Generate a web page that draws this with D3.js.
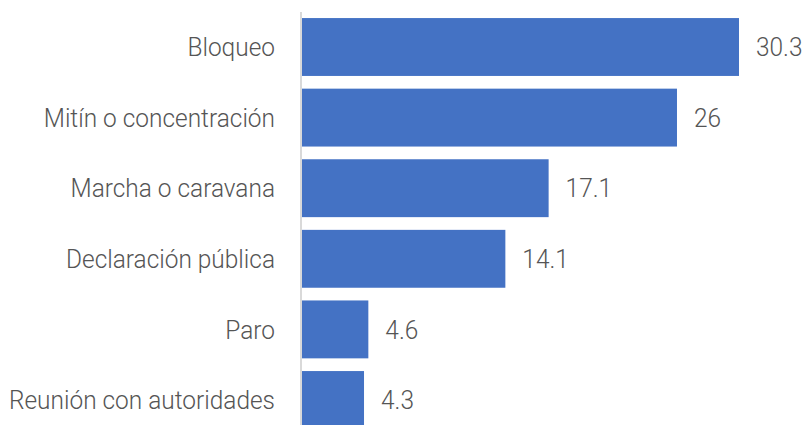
<!DOCTYPE html>
<html>
<head>
<meta charset="utf-8">
<script src="https://cdn.jsdelivr.net/npm/d3@7"></script>
<style>
  body { margin: 0; background: #fff; }
  svg text { font-family: "Roboto", "Open Sans", sans-serif; font-weight: 300; fill: #555; }
</style>
</head>
<body>
<div id="chart"></div>
<script>
// Chart data
const categories = ['Bloqueo', 'Mitín o concentración', 'Marcha o caravana', 'Declaración pública', 'Paro', 'Reunión con autoridades'];
const values = [30.3, 26, 17.1, 14.1, 4.6, 4.3];

const width = 804, height = 425;
const squeeze = 0.94; // narrow the glyphs a little, the original font is tighter

const svg = d3.select('#chart')
    .append('svg')
    .attr('width', width)
    .attr('height', height);

const x = d3.scaleLinear()
    .domain([0, 30.3])
    .range([302, 739]);

const y = d3.scaleBand()
    .domain(categories)
    .range([11.7, 435.3])
    .paddingInner(0.18)
    .paddingOuter(0.09);

const rows = categories.map((c, i) => ({ cat: c, val: values[i] }));

// Bars
svg.append('g')
    .selectAll('rect')
    .data(rows)
    .enter().append('rect')
    .attr('x', x(0))
    .attr('y', d => y(d.cat))
    .attr('width', d => x(d.val) - x(0))
    .attr('height', y.bandwidth())
    .attr('fill', '#4472C4');

// Axis line
svg.append('line')
    .attr('x1', 301).attr('x2', 301)
    .attr('y1', 12).attr('y2', height)
    .attr('stroke', '#d9d9d9')
    .attr('stroke-width', 2);

// Category labels
svg.append('g')
    .selectAll('text')
    .data(rows)
    .enter().append('text')
    .attr('transform', d => `translate(275,${y(d.cat) + y.bandwidth() / 2}) scale(${squeeze},1)`)
    .attr('dy', '0.35em')
    .attr('text-anchor', 'end')
    .attr('font-size', '26px')
    .text(d => d.cat);

// Value labels
svg.append('g')
    .selectAll('text')
    .data(rows)
    .enter().append('text')
    .attr('transform', d => `translate(${x(d.val) + 17},${y(d.cat) + y.bandwidth() / 2}) scale(${squeeze},1)`)
    .attr('dy', '0.35em')
    .attr('font-size', '26px')
    .text(d => d.val);
</script>
</body>
</html>
